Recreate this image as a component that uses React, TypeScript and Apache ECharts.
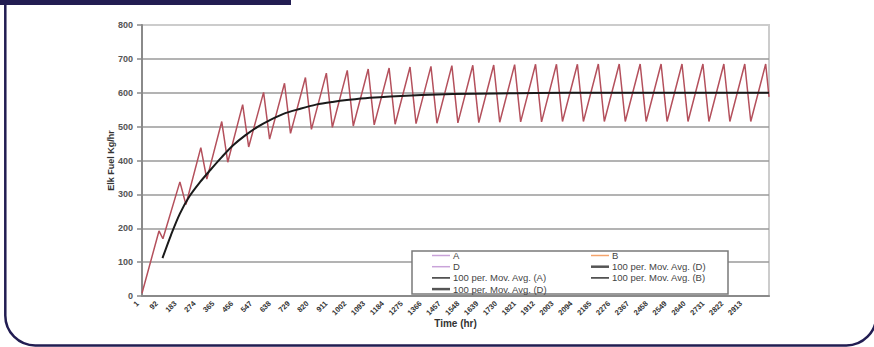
import React, { useEffect, useRef } from 'react';
import * as echarts from 'echarts';

const xTickLabels = ['1', '92', '183', '274', '365', '456', '547', '638', '729', '820', '911', '1002', '1093', '1184', '1275', '1366', '1457', '1548', '1639', '1730', '1821', '1912', '2003', '2094', '2185', '2276', '2367', '2458', '2549', '2640', '2731', '2822', '2913'];

const sawHours = [0, 82, 101, 183, 212, 284, 313, 385, 414, 486, 515, 587, 616, 688, 717, 789, 818, 890, 919, 991, 1020, 1092, 1121, 1193, 1222, 1294, 1323, 1395, 1424, 1496, 1525, 1597, 1626, 1698, 1727, 1799, 1828, 1900, 1929, 2001, 2030, 2102, 2131, 2203, 2232, 2304, 2333, 2405, 2434, 2506, 2535, 2607, 2636, 2708, 2737, 2809, 2838, 2910, 2939, 3011, 3027];
const sawValues = [8, 192, 169, 337, 270, 438, 345, 515, 395, 565, 440, 601, 463, 628, 480, 645, 492, 658, 498, 666, 502, 670, 505, 673, 507, 676, 509, 678, 510, 680, 511, 681, 512, 682, 513, 683, 514, 684, 514, 684, 515, 684, 515, 685, 515, 685, 515, 685, 515, 685, 515, 685, 515, 685, 515, 685, 515, 685, 515, 685, 588];

const maHours = [99, 140, 183, 230, 280, 330, 385, 440, 500, 560, 620, 680, 760, 840, 920, 1000, 1100, 1200, 1350, 1500, 1700, 1900, 2200, 2600, 3027];
const maValues = [112, 180, 243, 295, 336, 372, 410, 445, 475, 500, 520, 537, 552, 565, 573, 579, 585, 589, 593, 596, 598, 599, 600, 600, 600];

const legendLabels = ['A', 'B', 'D', '100 per. Mov. Avg. (D)', '100 per. Mov. Avg. (A)', '100 per. Mov. Avg. (B)', '100 per. Mov. Avg. (D)'];
const yAxisTitle = 'Elk Fuel Kg/hr';
const xAxisTitle = 'Time (hr)';

const legendLineStyles = [
  { stroke: '#c9a3d9', lineWidth: 1.5 },
  { stroke: '#f4a46c', lineWidth: 1.5 },
  { stroke: '#c9a3d9', lineWidth: 1.5 },
  { stroke: '#555555', lineWidth: 2.5 },
  { stroke: '#333333', lineWidth: 1.5 },
  { stroke: '#333333', lineWidth: 1.5 },
  { stroke: '#555555', lineWidth: 2.5 },
];

const FONT = '"Liberation Sans", Arial, sans-serif';
const NAVY = '#221d52';

export default function App() {
  const ref = useRef<HTMLDivElement>(null);
  useEffect(() => {
    if (!ref.current) return;
    const chart = echarts.init(ref.current, undefined, { renderer: 'svg' });

    const legendEls: any[] = [
      {
        type: 'rect',
        shape: { x: 412, y: 251, width: 316, height: 43 },
        style: { fill: '#ffffff', stroke: '#7a7a7a', lineWidth: 1.5 },
        z: 100,
      },
    ];
    legendLabels.forEach((label, i) => {
      const col = i % 2;
      const row = Math.floor(i / 2);
      const lx = col === 0 ? 432 : 591;
      const y = 255.5 + row * 11.2;
      legendEls.push({
        type: 'line',
        shape: { x1: lx, y1: y, x2: lx + 18, y2: y },
        style: { ...legendLineStyles[i] },
        z: 101,
      });
      legendEls.push({
        type: 'text',
        x: lx + 21,
        y: y,
        style: { text: label, fill: '#444', font: `9.5px ${FONT}`, verticalAlign: 'middle', align: 'left' },
        z: 101,
      });
    });

    const splitColors = ['#9a9a9a', '#9a9a9a', '#9a9a9a', '#9a9a9a', '#9a9a9a', '#9a9a9a', '#9a9a9a', '#9a9a9a', '#cccccc'];

    chart.setOption({
      animation: false,
      textStyle: { fontFamily: FONT },
      grid: { left: 142, right: 105, top: 25, bottom: 51, show: true, borderColor: '#cccccc', borderWidth: 2, backgroundColor: 'transparent' },
      xAxis: {
        type: 'value',
        min: 0,
        max: 3027,
        interval: 91,
        name: xAxisTitle,
        nameLocation: 'middle',
        nameGap: 22,
        nameMoveOverlap: false,
        nameTextStyle: { fontSize: 10, fontWeight: 'bold', color: '#333', fontFamily: FONT },
        axisLine: { show: true, onZero: false, lineStyle: { color: '#8a8a8a', width: 2 } },
        axisTick: { show: false },
        splitLine: { show: false },
        axisLabel: {
          rotate: 45,
          fontSize: 7.5,
          fontWeight: 'bold',
          color: '#333',
          fontFamily: FONT,
          margin: 2,
          padding: [0, 6, 0, 0],
          formatter: (v: number) => {
            const idx = v / 91;
            return Number.isInteger(idx) && xTickLabels[idx] ? xTickLabels[idx] : '';
          },
        },
      },
      yAxis: {
        type: 'value',
        min: 0,
        max: 800,
        interval: 100,
        name: yAxisTitle,
        nameLocation: 'middle',
        nameGap: 27,
        nameMoveOverlap: false,
        nameRotate: 90,
        nameTextStyle: { fontSize: 9, fontWeight: 'bold', color: '#333', fontFamily: FONT },
        axisLine: { show: true, lineStyle: { color: '#8a8a8a', width: 2 } },
        axisTick: { show: true, length: 5, lineStyle: { color: '#8a8a8a', width: 1.5 } },
        splitLine: { show: true, lineStyle: { color: splitColors, width: 1.5 } },
        axisLabel: { fontSize: 9, fontWeight: 'bold', color: '#555', margin: 9, fontFamily: FONT },
      },
      series: [
        {
          type: 'line',
          name: 'A',
          data: sawHours.map((h, i) => [h, sawValues[i]]),
          showSymbol: false,
          lineStyle: { color: '#b4505c', width: 1.5 },
          itemStyle: { color: '#b4505c' },
          z: 2,
        },
        {
          type: 'line',
          name: '100 per. Mov. Avg. (A)',
          data: maHours.map((h, i) => [h, maValues[i]]),
          showSymbol: false,
          smooth: 0.3,
          lineStyle: { color: '#1a1a1a', width: 2 },
          itemStyle: { color: '#1a1a1a' },
          z: 3,
        },
      ],
      graphic: [
        {
          type: 'rect',
          shape: { x: 5.3, y: -60, width: 871, height: 405.5, r: 30 },
          style: { fill: 'none', stroke: NAVY, lineWidth: 2.5 },
          z: 200,
          silent: true,
        },
        {
          type: 'rect',
          shape: { x: 0, y: 0, width: 291, height: 5 },
          style: { fill: NAVY },
          z: 200,
          silent: true,
        },
        ...legendEls,
      ],
    });
    return () => chart.dispose();
  }, []);

  return (
    <div
      ref={ref}
      style={{ position: 'fixed', left: 0, top: 0, width: 874, height: 347, background: '#ffffff' }}
    />
  );
}
